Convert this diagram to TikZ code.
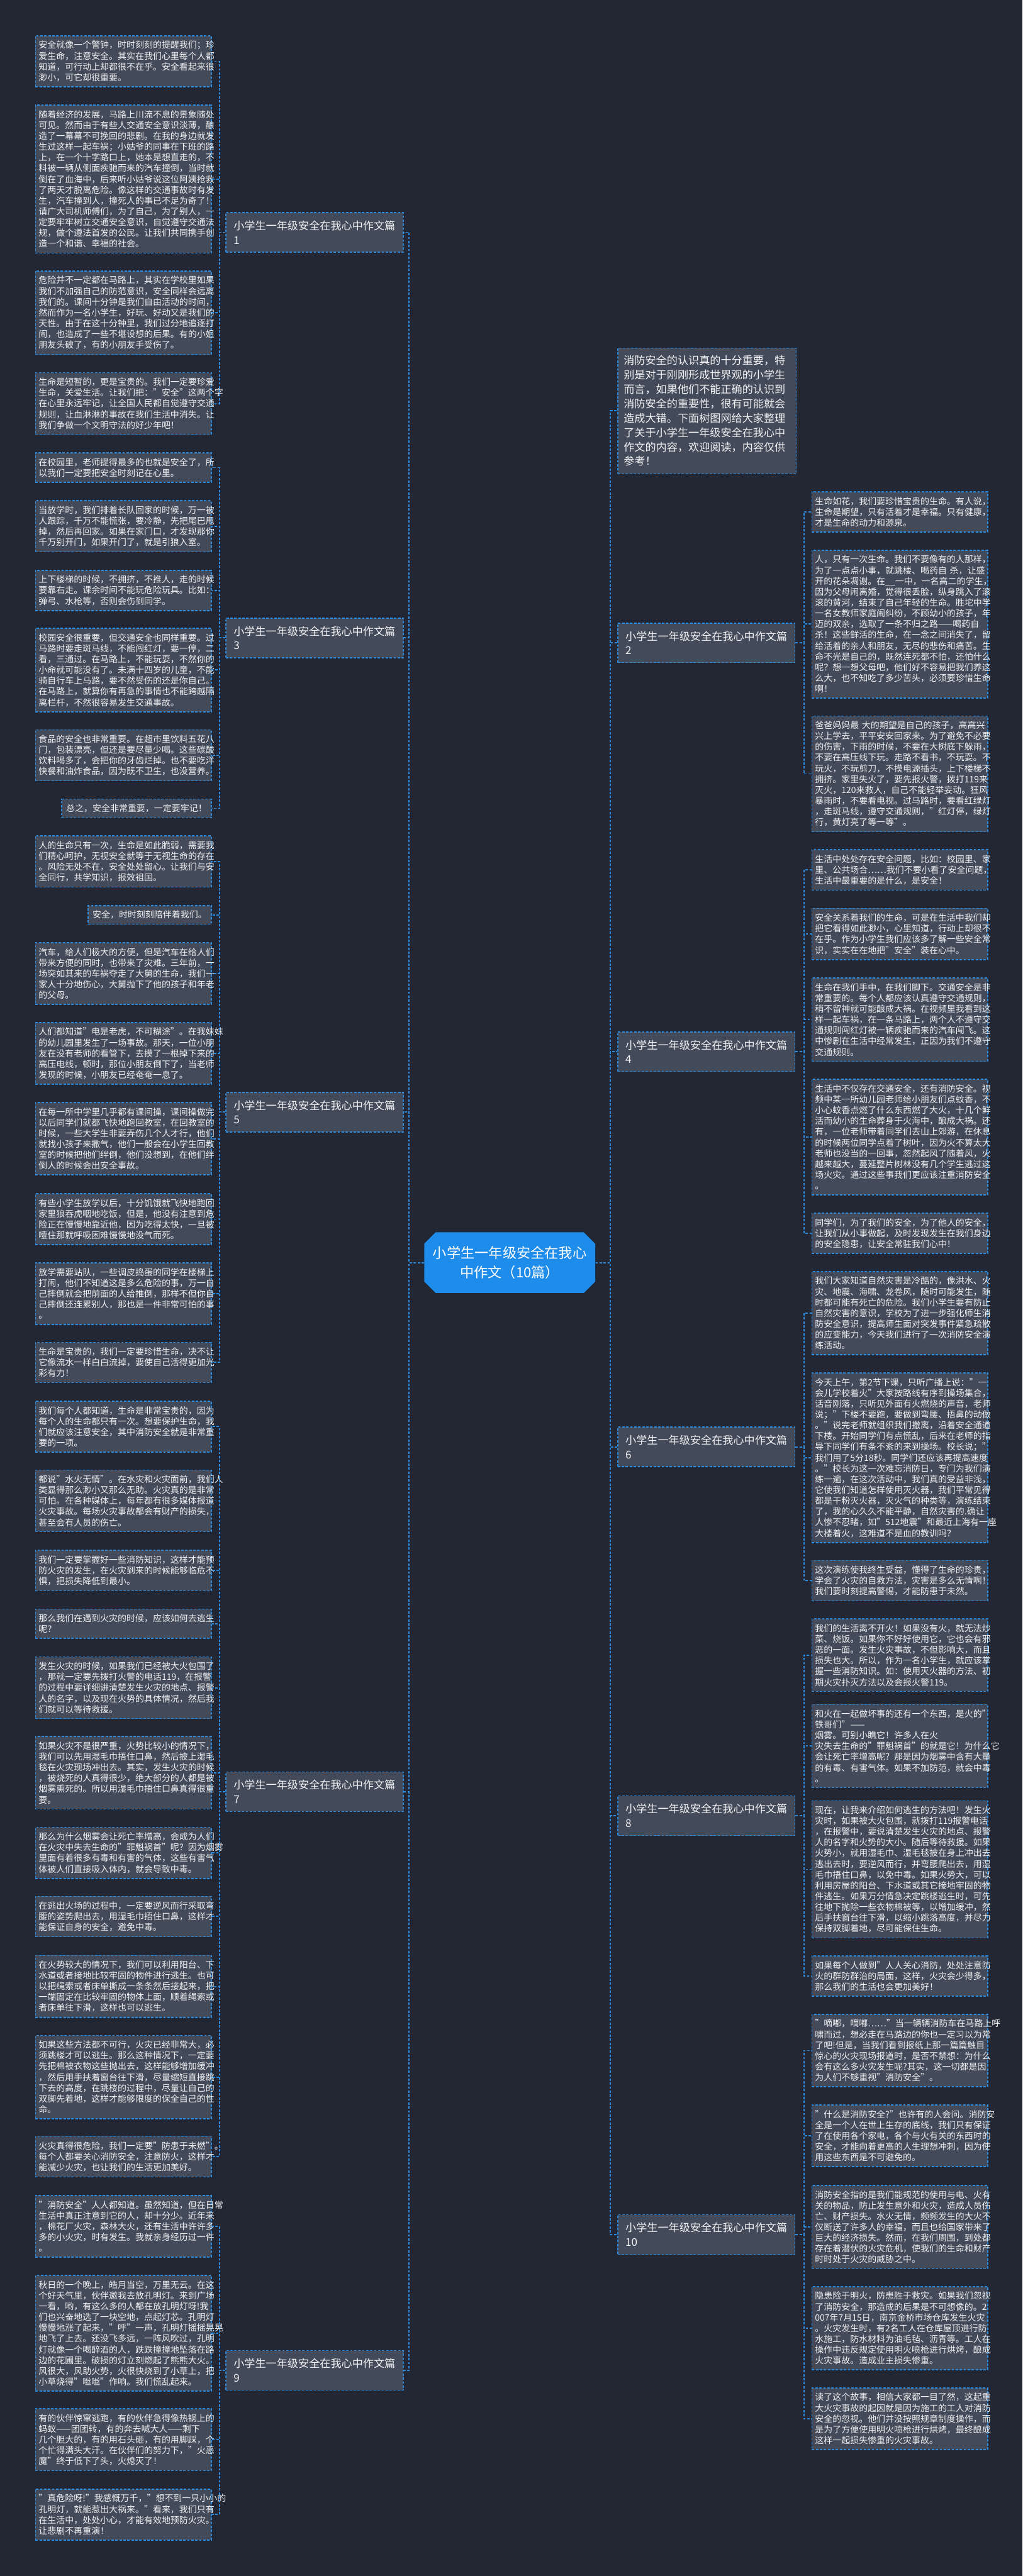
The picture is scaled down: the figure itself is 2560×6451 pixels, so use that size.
\documentclass[tikz,border=0pt]{standalone}
\usepackage{fontspec}
\setmainfont{Noto Sans CJK SC}
\usepackage{xcolor}
\usetikzlibrary{shapes.misc}

\definecolor{bgnavy}{HTML}{222733}
\definecolor{cardgray}{HTML}{434A59}
\definecolor{edgeblue}{HTML}{2A8BDF}
\definecolor{inkwhite}{HTML}{F0F1F3}
\definecolor{rootblue}{HTML}{1E8CEB}

\begin{document}
\begin{tikzpicture}[x=0.1mm, y=-0.1mm,
		card/.style={draw=edgeblue, line width=0.25mm, dash pattern=on 0.6mm off 0.4mm, fill=cardgray, text=inkwhite, align=left, font=\fontsize{6.26pt}{7.68pt}\selectfont, inner xsep=1.1mm, inner ysep=1.3mm},
		leafcard/.style={card, text width=42.4mm, inner xsep=0.8mm},
		headcard/.style={card, anchor=west, text width=40.5mm, inner xsep=1.95mm, inner ysep=2mm, font=\fontsize{7.68pt}{10.24pt}\selectfont},
		introcard/.style={card, anchor=west, text width=41.7mm, inner xsep=1.5mm, inner ysep=1.9mm, font=\fontsize{7.68pt}{10.24pt}\selectfont},
		rootcard/.style={chamfered rectangle, chamfered rectangle xsep=1.6mm, fill=rootblue, text=white, align=center, font=\fontsize{9.96pt}{13.66pt}\selectfont, minimum width=42.8mm, minimum height=15.2mm, inner sep=0pt},
		wire/.style={draw=edgeblue, line width=0.3mm, dash pattern=on 0.6mm off 0.4mm}]
	\fill[bgnavy] (0,0) rectangle (2560,6451);
	\useasboundingbox (0,0) rectangle (2560,6451);

	\node[rootcard] (root) at (1276,3162) {小学生一年级安全在我心\\中作文（10篇）};

	\node[introcard] (intro) at (1545,1029) {消防安全的认识真的十分重要，特\\
		别是对于刚刚形成世界观的小学生\\
		而言，如果他们不能正确的认识到\\
		消防安全的重要性，很有可能就会\\
		造成大错。下面树图网给大家整理\\
		了关于小学生一年级安全在我心中\\
		作文的内容，欢迎阅读，内容仅供\\
		参考！};

	\node[headcard] (h1) at (564,582) {小学生一年级安全在我心中作文篇\\1};
	\node[headcard] (h3) at (564,1597.5) {小学生一年级安全在我心中作文篇\\3};
	\node[headcard] (h5) at (564,2785) {小学生一年级安全在我心中作文篇\\5};
	\node[headcard] (h7) at (564,4487) {小学生一年级安全在我心中作文篇\\7};
	\node[headcard] (h9) at (564,5936) {小学生一年级安全在我心中作文篇\\9};
	\node[headcard] (h2) at (1545,1610) {小学生一年级安全在我心中作文篇\\2};
	\node[headcard] (h4) at (1545,2633.5) {小学生一年级安全在我心中作文篇\\4};
	\node[headcard] (h6) at (1545,3623.5) {小学生一年级安全在我心中作文篇\\6};
	\node[headcard] (h8) at (1545,4547) {小学生一年级安全在我心中作文篇\\8};
	\node[headcard] (h10) at (1545,5596) {小学生一年级安全在我心中作文篇\\10};

	\begin{scope}[every node/.append style={anchor=east}]
		\node[leafcard] (t1a) at (530,153.5) {安全就像一个警钟，时时刻刻的提醒我们；珍\\
			爱生命，注意安全。其实在我们心里每个人都\\
			知道，可行动上却都很不在乎。安全看起来很\\
			渺小，可它却很重要。};
		\node[leafcard] (t1b) at (530,448.5) {随着经济的发展，马路上川流不息的景象随处\\
			可见。然而由于有些人交通安全意识淡薄，酿\\
			造了一幕幕不可挽回的悲剧。在我的身边就发\\
			生过这样一起车祸；小姑爷的同事在下班的路\\
			上，在一个十字路口上，她本是想直走的，不\\
			料被一辆从侧面疾驰而来的汽车撞倒，当时就\\
			倒在了血海中，后来听小姑爷说这位阿姨抢救\\
			了两天才脱离危险。像这样的交通事故时有发\\
			生，汽车撞到人，撞死人的事已不足为奇了！\\
			请广大司机师傅们，为了自己，为了别人，一\\
			定要牢牢树立交通安全意识，自觉遵守交通法\\
			规，做个遵法首发的公民。让我们共同携手创\\
			造一个和谐、幸福的社会。};
		\node[leafcard] (t1c) at (530,783) {危险并不一定都在马路上，其实在学校里如果\\
			我们不加强自己的防范意识，安全同样会远离\\
			我们的。课间十分钟是我们自由活动的时间，\\
			然而作为一名小学生，好玩、好动又是我们的\\
			天性。由于在这十分钟里，我们过分地追逐打\\
			闹，也造成了一些不堪设想的后果。有的小姐\\
			朋友头破了，有的小朋友手受伤了。};
		\node[leafcard] (t1d) at (530,1010.5) {生命是短暂的，更是宝贵的。我们一定要珍爱\\
			生命，关爱生活。让我们把："安全"这两个字\\
			在心里永远牢记，让全国人民都自觉遵守交通\\
			规则，让血淋淋的事故在我们生活中消失。让\\
			我们争做一个文明守法的好少年吧！};

		\node[leafcard] (t3a) at (530,1171) {在校园里，老师提得最多的也就是安全了，所\\
			以我们一定要把安全时刻记在心里。};
		\node[leafcard] (t3b) at (530,1318) {当放学时，我们排着长队回家的时候，万一被\\
			人跟踪，千万不能慌张，要冷静，先把尾巴甩\\
			掉，然后再回家。如果在家门口，才发现那你\\
			千万别开门，如果开门了，就是引狼入室。};
		\node[leafcard] (t3c) at (530,1478.5) {上下楼梯的时候，不拥挤，不推人，走的时候\\
			要靠右走。课余时间不能玩危险玩具。比如：\\
			弹弓、水枪等，否则会伤到同学。};
		\node[leafcard] (t3d) at (530,1678) {校园安全很重要，但交通安全也同样重要。过\\
			马路时要走斑马线，不能闯红灯，要一停，二\\
			看，三通过。在马路上，不能玩耍，不然你的\\
			小命就可能没有了。未满十四岁的儿童，不能\\
			骑自行车上马路，要不然受伤的还是你自己。\\
			在马路上，就算你有再急的事情也不能跨越隔\\
			离栏杆，不然很容易发生交通事故。};
		\node[leafcard] (t3e) at (530,1891.5) {食品的安全也非常重要。在超市里饮料五花八\\
			门，包装漂亮，但还是要尽量少喝。这些碳酸\\
			饮料喝多了，会把你的牙齿烂掉。也不要吃洋\\
			快餐和油炸食品，因为既不卫生，也没营养。};
		\node[card] (t3f) at (530,2024.5) {总之，安全非常重要，一定要牢记！};

		\node[leafcard] (t5a) at (530,2157.5) {人的生命只有一次，生命是如此脆弱，需要我\\
			们精心呵护，无视安全就等于无视生命的存在\\
			。风险无处不在，安全处处留心。让我们与安\\
			全同行，共学知识，报效祖国。};
		\node[card] (t5b) at (530,2291) {安全，时时刻刻陪伴着我们。};
		\node[leafcard] (t5c) at (530,2438) {汽车，给人们极大的方便，但是汽车在给人们\\
			带来方便的同时，也带来了灾难。三年前，一\\
			场突如其来的车祸夺走了大舅的生命，我们一\\
			家人十分地伤心，大舅抛下了他的孩子和年老\\
			的父母。};
		\node[leafcard] (t5d) at (530,2638) {人们都知道"电是老虎，不可糊涂"。在我妹妹\\
			的幼儿园里发生了一场事故。那天，一位小朋\\
			友在没有老师的看管下，去摸了一根掉下来的\\
			高压电线，顿时，那位小朋友倒下了，当老师\\
			发现的时候，小朋友已经奄奄一息了。};
		\node[leafcard] (t5e) at (530,2851.5) {在每一所中学里几乎都有课间操，课间操做完\\
			以后同学们就都飞快地跑回教室，在回教室的\\
			时候，一些大学生非要弄伤几个人才行，他们\\
			就找小孩子来撒气，他们一般会在小学生回教\\
			室的时候把他们绊倒，他们没想到，在他们绊\\
			倒人的时候会出安全事故。};
		\node[leafcard] (t5f) at (530,3053) {有些小学生放学以后，十分饥饿就飞快地跑回\\
			家里狼吞虎咽地吃饭，但是，他没有注意到危\\
			险正在慢慢地靠近他，因为吃得太快，一旦被\\
			噎住那就呼吸困难慢慢地没气而死。};
		\node[leafcard] (t5g) at (530,3239.5) {放学需要站队，一些调皮捣蛋的同学在楼梯上\\
			打闹，他们不知道这是多么危险的事，万一自\\
			己摔倒就会把前面的人给推倒，那样不但你自\\
			己摔倒还连累别人，那也是一件非常可怕的事\\
			。};
		\node[leafcard] (t5h) at (530,3412) {生命是宝贵的，我们一定要珍惜生命，决不让\\
			它像流水一样白白流掉，要使自己活得更加光\\
			彩有力！};

		\node[leafcard] (t7a) at (530,3572.5) {我们每个人都知道，生命是非常宝贵的，因为\\
			每个人的生命都只有一次。想要保护生命，我\\
			们就应该注意安全，其中消防安全就是非常重\\
			要的一项。};
		\node[leafcard] (t7b) at (530,3758.5) {都说"水火无情"。在水灾和火灾面前，我们人\\
			类显得那么渺小又那么无助。火灾真的是非常\\
			可怕。在各种媒体上，每年都有很多媒体报道\\
			火灾事故。每场火灾事故都会有财产的损失，\\
			甚至会有人员的伤亡。};
		\node[leafcard] (t7c) at (530,3933) {我们一定要掌握好一些消防知识，这样才能预\\
			防火灾的发生，在火灾到来的时候能够临危不\\
			惧，把损失降低到最小。};
		\node[leafcard] (t7d) at (530,4066) {那么我们在遇到火灾的时候，应该如何去逃生\\
			呢？};
		\node[leafcard] (t7e) at (530,4226.5) {发生火灾的时候，如果我们已经被大火包围了\\
			，那就一定要先拨打火警的电话119，在报警\\
			的过程中要详细讲清楚发生火灾的地点、报警\\
			人的名字，以及现在火势的具体情况，然后我\\
			们就可以等待救援。};
		\node[leafcard] (t7f) at (530,4439.5) {如果火灾不是很严重，火势比较小的情况下，\\
			我们可以先用湿毛巾捂住口鼻，然后披上湿毛\\
			毯在火灾现场冲出去。其实，发生火灾的时候\\
			，被烧死的人真得很少，绝大部分的人都是被\\
			烟雾熏死的。所以用湿毛巾捂住口鼻真得很重\\
			要。};
		\node[leafcard] (t7g) at (530,4640) {那么为什么烟雾会让死亡率增高，会成为人们\\
			在火灾中失去生命的"罪魁祸首"呢？因为烟雾\\
			里面有着很多有毒和有害的气体，这些有害气\\
			体被人们直接吸入体内，就会导致中毒。};
		\node[leafcard] (t7h) at (530,4799.5) {在逃出火场的过程中，一定要逆风而行采取弯\\
			腰的姿势爬出去，用湿毛巾捂住口鼻，这样才\\
			能保证自身的安全，避免中毒。};
		\node[leafcard] (t7i) at (530,4974.5) {在火势较大的情况下，我们可以利用阳台、下\\
			水道或者接地比较牢固的物件进行逃生。也可\\
			以把绳索或者床单撕成一条条然后接起来，把\\
			一端固定在比较牢固的物体上面，顺着绳索或\\
			者床单往下滑，这样也可以逃生。};
		\node[leafcard] (t7j) at (530,5201.5) {如果这些方法都不可行，火灾已经非常大，必\\
			须跳楼才可以逃生。那么这种情况下，一定要\\
			先把棉被衣物这些抛出去，这样能够增加缓冲\\
			，然后用手扶着窗台往下滑，尽量缩短直接跳\\
			下去的高度，在跳楼的过程中，尽量让自己的\\
			双脚先着地，这样才能够限度的保全自己的性\\
			命。};
		\node[leafcard] (t7k) at (530,5401) {火灾真得很危险，我们一定要"防患于未燃"。\\
			每个人都要关心消防安全，注意防火，这样才\\
			能减少火灾，也让我们的生活更加美好。};

		\node[leafcard] (t9a) at (530,5575) {"消防安全"人人都知道。虽然知道，但在日常\\
			生活中真正注意到它的人，却十分少。近年来\\
			，棉花厂火灾，森林大火，还有生活中许许多\\
			多的小火灾，时有发生。我就亲身经历过一件\\
			。};
		\node[leafcard] (t9b) at (530,5843) {秋日的一个晚上，皓月当空，万里无云。在这\\
			个好天气里，伙伴邀我去放孔明灯。来到广场\\
			一看，哟，有这么多的人都在放孔明灯呀!我\\
			们也兴奋地选了一块空地，点起灯芯。孔明灯\\
			慢慢地涨了起来，"呼"一声，孔明灯摇摇晃晃\\
			地飞了上去。还没飞多远，一阵风吹过，孔明\\
			灯就像一个喝醉酒的人，跌跌撞撞地坠落在路\\
			边的花圃里。破损的灯立刻燃起了熊熊大火。\\
			风很大，风助火势，火很快烧到了小草上，把\\
			小草烧得"咝咝"作响。我们慌乱起来。};
		\node[leafcard] (t9c) at (530,6109.5) {有的伙伴惊窜逃跑，有的伙伴急得像热锅上的\\
			蚂蚁——团团转，有的奔去喊大人——剩下\\
			几个胆大的，有的用石头砸，有的用脚踩，个\\
			个忙得满头大汗。在伙伴们的努力下，"火恶\\
			魔"终于低下了头，火熄灭了！};
		\node[leafcard] (t9d) at (530,6297) {"真危险呀!"我感慨万千，"想不到一只小小的\\
			孔明灯，就能惹出大祸来。"看来，我们只有\\
			在生活中，处处小心，才能有效地预防火灾。\\
			让悲剧不再重演！};
	\end{scope}

	\begin{scope}[every node/.append style={anchor=west}]
		\node[leafcard] (t2a) at (2031,1282) {生命如花，我们要珍惜宝贵的生命。有人说，\\
			生命是期望，只有活着才是幸福。只有健康，\\
			才是生命的动力和源泉。};
		\node[leafcard] (t2b) at (2031,1563) {人，只有一次生命。我们不要像有的人那样，\\
			为了一点点小事，就跳楼、喝药自~杀，让盛\\
			开的花朵凋谢。在\_\_一中，一名高二的学生，\\
			因为父母闹离婚，觉得很丢脸，纵身跳入了滚\\
			滚的黄河，结束了自己年轻的生命。胜坨中学\\
			一名女教师家庭闹纠纷，不顾幼小的孩子，年\\
			迈的双亲，选取了一条不归之路——喝药自\\
			杀！这些鲜活的生命，在一念之间消失了，留\\
			给活着的亲人和朋友，无尽的悲伤和痛苦。生\\
			命不光是自己的，既然连死都不怕，还怕什么\\
			呢？想一想父母吧，他们好不容易把我们养这\\
			么大，也不知吃了多少苦头，必须要珍惜生命\\
			啊！};
		\node[leafcard] (t2c) at (2031,1938) {爸爸妈妈最~大的期望是自己的孩子，高高兴\\
			兴上学去，平平安安回家来。为了避免不必要\\
			的伤害，下雨的时候，不要在大树底下躲雨，\\
			不要在高压线下玩。走路不看书，不玩耍。不\\
			玩火，不玩剪刀，不摸电源插头，上下楼梯不\\
			拥挤。家里失火了，要先报火警，拨打119来\\
			灭火，120来救人，自己不能轻举妄动。狂风\\
			暴雨时，不要看电视。过马路时，要看红绿灯\\
			，走斑马线，遵守交通规则，"红灯停，绿灯\\
			行，黄灯亮了等一等"。};

		\node[leafcard] (t4a) at (2031,2178.5) {生活中处处存在安全问题，比如：校园里、家\\
			里、公共场合……我们不要小看了安全问题，\\
			生活中最重要的是什么，是安全！};
		\node[leafcard] (t4b) at (2031,2339) {安全关系着我们的生命，可是在生活中我们却\\
			把它看得如此渺小，心里知道，行动上却很不\\
			在乎。作为小学生我们应该多了解一些安全常\\
			识，实实在在地把"安全"装在心中。};
		\node[leafcard] (t4c) at (2031,2553.5) {生命在我们手中，在我们脚下。交通安全是非\\
			常重要的。每个人都应该认真遵守交通规则，\\
			稍不留神就可能酿成大祸。在视频里我看到这\\
			样一起车祸，在一条马路上，两个人不遵守交\\
			通规则闯红灯被一辆疾驰而来的汽车闯飞。这\\
			中惨剧在生活中经常发生，正因为我们不遵守\\
			交通规则。};
		\node[leafcard] (t4d) at (2031,2847.5) {生活中不仅存在交通安全，还有消防安全。视\\
			频中某一所幼儿园老师给小朋友们点蚊香，不\\
			小心蚊香点燃了什么东西燃了大火，十几个鲜\\
			活而幼小的生命葬身于火海中，酿成大祸。还\\
			有，一位老师带着同学们去山上郊游，在休息\\
			的时候两位同学点着了树叶，因为火不算太大\\
			老师也没当的一回事，忽然起风了随着风，火\\
			越来越大，蔓延整片树林没有几个学生逃过这\\
			场火灾。通过这些事我们更应该注重消防安全\\
			。};
		\node[leafcard] (t4e) at (2031,3088.5) {同学们，为了我们的安全，为了他人的安全，\\
			让我们从小事做起，及时发现发生在我们身边\\
			的安全隐患，让安全常驻我们心中！};

		\node[leafcard] (t6a) at (2031,3288.5) {我们大家知道自然灾害是冷酷的，像洪水、火\\
			灾、地震、海啸、龙卷风，随时可能发生，随\\
			时都可能有死亡的危险。我们小学生要有防止\\
			自然灾害的意识，学校为了进一步强化师生消\\
			防安全意识，提高师生面对突发事件紧急疏散\\
			的应变能力，今天我们进行了一次消防安全演\\
			练活动。};
		\node[leafcard] (t6b) at (2031,3650.5) {今天上午，第2节下课，只听广播上说："一\\
			会儿学校着火"大家按路线有序到操场集合，\\
			话音刚落，只听见外面有火燃烧的声音，老师\\
			说；"下楼不要跑，要做到弯腰、捂鼻的动做\\
			。"说完老师就组织我们撤离，沿着安全通道\\
			下楼。开始同学们有点慌乱，后来在老师的指\\
			导下同学们有条不紊的来到操场。校长说；"\\
			我们用了5分18秒。同学们还应该再提高速度\\
			。"校长为这一次难忘消防日，专门为我们演\\
			练一遍，在这次活动中，我们真的受益非浅，\\
			它使我们知道怎样使用灭火器，我们平常见得\\
			都是干粉灭火器，灭火气的种类等，演练结束\\
			了，我的心久久不能平静，自然灾害的.确让\\
			人惨不忍睹，如"512地震"和最近上海有一座\\
			大楼着火，这难道不是血的教训吗？};
		\node[leafcard] (t6c) at (2031,3958.5) {这次演练使我终生受益，懂得了生命的珍贵，\\
			学会了火灾的自救方法，灾害是多么无情啊！\\
			我们要时刻提高警惕，才能防患于未然。};

		\node[leafcard] (t8a) at (2031,4145) {我们的生活离不开火！如果没有火，就无法炒\\
			菜、烧饭。如果你不好好使用它，它也会有邪\\
			恶的一面。发生火灾事故，不但影响大，而且\\
			损失也大。所以，作为一名小学生，就应该掌\\
			握一些消防知识。如：使用灭火器的方法、初\\
			期火灾扑灭方法以及会报火警119。};
		\node[leafcard] (t8b) at (2031,4372.5) {和火在一起做坏事的还有一个东西，是火的"\\
			铁哥们"——烟雾。可别小瞧它！许多人在火\\
			灾失去生命的"罪魁祸首"的就是它！为什么它\\
			会让死亡率增高呢？那是因为烟雾中含有大量\\
			的有毒、有害气体。如果不加防范，就会中毒\\
			。};
		\node[leafcard] (t8c) at (2031,4681.5) {现在，让我来介绍如何逃生的方法吧！发生火\\
			灾时，如果被大火包围，就拨打119报警电话\\
			，在报警中，要说清楚发生火灾的地点、报警\\
			人的名字和火势的大小。随后等待救援。如果\\
			火势小，就用湿毛巾、湿毛毯披在身上冲出去\\
			逃出去时，要逆风而行，并弯腰爬出去，用湿\\
			毛巾捂住口鼻，以免中毒。如果火势大，可以\\
			利用房屋的阳台、下水道或其它接地牢固的物\\
			件逃生。如果万分情急决定跳楼逃生时，可先\\
			往地下抛除一些衣物棉被等，以增加缓冲，然\\
			后手扶窗台往下滑，以缩小跳落高度，并尽力\\
			保持双脚着地，尽可能保住生命。};
		\node[leafcard] (t8d) at (2031,4948.5) {如果每个人做到"人人关心消防，处处注意防\\
			火的群防群治的局面，这样，火灾会少得多，\\
			那么我们的生活也会更加美好！};

		\node[leafcard] (t10a) at (2031,5135) {"嘀嘟，嘀嘟……"当一辆辆消防车在马路上呼\\
			啸而过，想必走在马路边的你也一定习以为常\\
			了吧!但是，当我们看到报纸上那一篇篇触目\\
			惊心的火灾现场报道时，是否不禁想：为什么\\
			会有这么多火灾发生呢?其实，这一切都是因\\
			为人们不够重视"消防安全"。};
		\node[leafcard] (t10b) at (2031,5348.5) {"什么是消防安全?"也许有的人会问。消防安\\
			全是一个人在世上生存的底线，我们只有保证\\
			了在使用各个家电，各个与火有关的东西时的\\
			安全，才能向着更高的人生理想冲刺，因为使\\
			用这些东西是不可避免的。};
		\node[leafcard] (t10c) at (2031,5577) {消防安全指的是我们能规范的使用与电、火有\\
			关的物品，防止发生意外和火灾，造成人员伤\\
			亡、财产损失。水火无情，频频发生的大火不\\
			仅断送了许多人的幸福，而且也给国家带来了\\
			巨大的经济损失。然而，在我们周围，到处都\\
			存在着潜伏的火灾危机，使我们的生命和财产\\
			时时处于火灾的威胁之中。};
		\node[leafcard] (t10d) at (2031,5830.5) {隐患险于明火，防患胜于救灾。如果我们忽视\\
			了消防安全，那造成的后果是不可想像的。2\\
			007年7月15日，南京金桥市场仓库发生火灾\\
			。火灾发生时，有2名工人在仓库屋顶进行防\\
			水施工，防水材料为油毛毡、沥青等。工人在\\
			操作中违反规定使用明火喷枪进行烘烤，酿成\\
			火灾事故。造成业主损失惨重。};
		\node[leafcard] (t10e) at (2031,6057) {读了这个故事，相信大家都一目了然，这起重\\
			大火灾事故的起因就是因为施工的工人对消防\\
			安全的忽视。他们并没按照规章制度操作，而\\
			是为了方便使用明火喷枪进行烘烤，最终酿成\\
			这样一起损失惨重的火灾事故。};
	\end{scope}

	\foreach \h in {h1,h3,h5,h7,h9}
		\draw[wire] (root.west) -- ++(-37,0) |- (\h.east);
	\foreach \h in {intro,h2,h4,h6,h8,h10}
		\draw[wire] (root.east) -- ++(37,0) |- (\h.west);

	\foreach \t in {t1a,t1b,t1c,t1d}
		\draw[wire] (h1.west) -- ++(-15,0) |- (\t.east);
	\foreach \t in {t3a,t3b,t3c,t3d,t3e,t3f}
		\draw[wire] (h3.west) -- ++(-15,0) |- (\t.east);
	\foreach \t in {t5a,t5b,t5c,t5d,t5e,t5f,t5g,t5h}
		\draw[wire] (h5.west) -- ++(-15,0) |- (\t.east);
	\foreach \t in {t7a,t7b,t7c,t7d,t7e,t7f,t7g,t7h,t7i,t7j,t7k}
		\draw[wire] (h7.west) -- ++(-15,0) |- (\t.east);
	\foreach \t in {t9a,t9b,t9c,t9d}
		\draw[wire] (h9.west) -- ++(-15,0) |- (\t.east);

	\foreach \t in {t2a,t2b,t2c}
		\draw[wire] (h2.east) -- ++(21,0) |- (\t.west);
	\foreach \t in {t4a,t4b,t4c,t4d,t4e}
		\draw[wire] (h4.east) -- ++(21,0) |- (\t.west);
	\foreach \t in {t6a,t6b,t6c}
		\draw[wire] (h6.east) -- ++(21,0) |- (\t.west);
	\foreach \t in {t8a,t8b,t8c,t8d}
		\draw[wire] (h8.east) -- ++(21,0) |- (\t.west);
	\foreach \t in {t10a,t10b,t10c,t10d,t10e}
		\draw[wire] (h10.east) -- ++(21,0) |- (\t.west);
\end{tikzpicture}
\end{document}
